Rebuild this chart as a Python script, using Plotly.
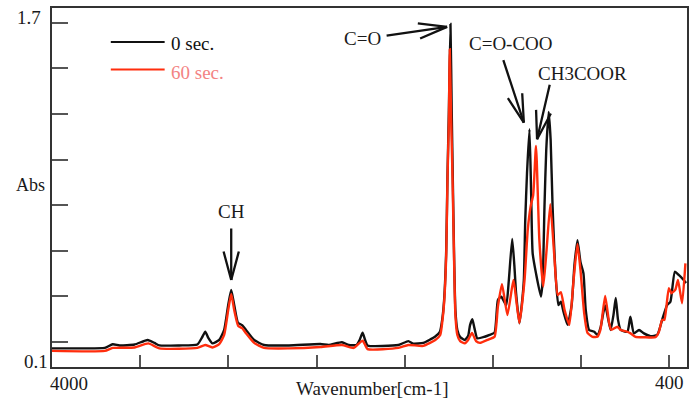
import math
import plotly.graph_objects as go

# ---------------- data ----------------
wn_0s = [4000, 3842, 3701, 3656, 3616, 3532, 3458, 3419, 3391, 3278, 3176, 3148, 3131, 3114, 3091,
         3052, 3024, 3001, 2984, 2967, 2946, 2922, 2900, 2854, 2798, 2657, 2478, 2431, 2356, 2318,
         2273, 2256, 2239, 2225, 2211, 2036, 1980, 1952, 1895, 1829, 1801, 1788, 1777, 1765, 1758,
         1750, 1741, 1734, 1728, 1720, 1713, 1702, 1686, 1660, 1641, 1630, 1617, 1605, 1589, 1547,
         1519, 1491, 1472, 1453, 1425, 1410, 1391, 1379, 1369, 1350, 1337, 1325, 1317, 1307, 1293,
         1284, 1275, 1256, 1228, 1218, 1208, 1198, 1184, 1173, 1162, 1143, 1129, 1115, 1100, 1077,
         1054, 1038, 1021, 1004, 987, 974, 955, 926, 908, 889, 874, 863, 848, 833, 817,
         804, 791, 776, 738, 721, 701, 672, 644, 607, 569, 541, 513, 494, 469, 447,
         419, 405]
abs_0s = [0.172, 0.172, 0.174, 0.190, 0.185, 0.189, 0.209, 0.196, 0.185, 0.185, 0.189, 0.222, 0.245, 0.218, 0.194,
          0.209, 0.253, 0.362, 0.428, 0.362, 0.285, 0.274, 0.253, 0.209, 0.187, 0.185, 0.191, 0.187, 0.199, 0.187,
          0.187, 0.209, 0.241, 0.209, 0.185, 0.187, 0.204, 0.193, 0.196, 0.223, 0.245, 0.297, 0.384, 0.604, 0.925,
          1.218, 1.595, 1.218, 0.925, 0.560, 0.340, 0.253, 0.222, 0.209, 0.226, 0.274, 0.300, 0.261, 0.216, 0.223,
          0.231, 0.241, 0.384, 0.399, 0.362, 0.472, 0.652, 0.538, 0.414, 0.282, 0.362, 0.472, 0.735, 0.941, 1.133,
          0.867, 0.589, 0.501, 0.399, 0.472, 0.793, 1.042, 1.209, 1.086, 0.793, 0.472, 0.362, 0.377, 0.332, 0.275,
          0.362, 0.538, 0.647, 0.551, 0.501, 0.340, 0.253, 0.245, 0.231, 0.267, 0.330, 0.360, 0.305, 0.253, 0.318,
          0.393, 0.297, 0.253, 0.245, 0.311, 0.238, 0.253, 0.238, 0.226, 0.231, 0.297, 0.362, 0.377, 0.508, 0.494,
          0.472, 0.459]

wn_60s = [4000, 3701, 3656, 3532, 3454, 3391, 3176, 3131, 3091, 3052, 3024, 3001, 2984, 2967, 2944,
          2922, 2900, 2854, 2798, 2657, 2478, 2356, 2290, 2239, 2211, 2036, 1980, 1895, 1827, 1799,
          1788, 1777, 1765, 1758, 1750, 1745, 1737, 1729, 1720, 1713, 1702, 1686, 1660, 1641, 1619,
          1596, 1574, 1523, 1491, 1472, 1449, 1418, 1384, 1368, 1350, 1321, 1303, 1286, 1272, 1256,
          1237, 1215, 1196, 1175, 1152, 1133, 1115, 1094, 1067, 1043, 1021, 1004, 983, 964, 936,
          908, 891, 864, 841, 829, 795, 776, 738, 720, 692, 644, 579, 559, 541, 528,
          503, 488, 466, 451, 428, 409]
abs_60s = [0.161, 0.161, 0.174, 0.176, 0.194, 0.172, 0.174, 0.187, 0.176, 0.191, 0.231, 0.340, 0.411, 0.340, 0.270,
           0.261, 0.238, 0.196, 0.174, 0.172, 0.178, 0.187, 0.174, 0.206, 0.169, 0.174, 0.187, 0.183, 0.209, 0.231,
           0.284, 0.371, 0.582, 0.911, 1.174, 1.484, 1.174, 0.911, 0.538, 0.318, 0.231, 0.204, 0.194, 0.209, 0.240,
           0.204, 0.196, 0.212, 0.223, 0.355, 0.454, 0.318, 0.472, 0.384, 0.283, 0.472, 0.691, 0.797, 0.845, 1.060,
           0.647, 0.443, 0.604, 0.805, 0.574, 0.406, 0.419, 0.340, 0.275, 0.472, 0.630, 0.516, 0.327, 0.240, 0.223,
           0.223, 0.253, 0.402, 0.282, 0.253, 0.267, 0.253, 0.245, 0.238, 0.223, 0.221, 0.221, 0.245, 0.297, 0.297,
           0.436, 0.414, 0.430, 0.472, 0.370, 0.545]

series_names = ["0 sec.", "60 sec."]
x_ticks = [3500, 3000, 2500, 2000, 1500, 1000, 500]
y_ticks = [0.2, 0.4, 0.6, 0.8, 1.0, 1.2, 1.4, 1.6]
x_end_labels = ["4000", "400"]
y_end_labels = ["1.7", "0.1"]

# peak labels: text, text position (wn, abs), arrow tip (wn, abs), tail offset (px)
peak_labels = [
    ("CH", 2980, 0.771, 2984, 0.472, 0, -53),
    ("C=O", 2239, 1.531, 1760, 1.582, -62, 9),
    ("C=O-COO", 1399, 1.511, 1325, 1.162, -21, -64),
    ("CH3COOR", 992, 1.378, 1250, 1.089, 13, -56),
]

FONT = "Liberation Serif, Times New Roman, serif"
BLACK = "#111111"
RED = "#ff2d0d"

fig = go.Figure()
fig.add_trace(go.Scatter(x=wn_0s, y=abs_0s, mode="lines", name=series_names[0],
                         line=dict(color=BLACK, width=2.4, shape="spline", smoothing=0.5),
                         showlegend=False))
fig.add_trace(go.Scatter(x=wn_60s, y=abs_60s, mode="lines", name=series_names[1],
                         line=dict(color=RED, width=2.4, shape="spline", smoothing=0.5),
                         showlegend=False))

ann = []
for txt, tx, ty, px, py, axo, ayo in peak_labels:
    ann.append(dict(x=tx, y=ty, xref="x", yref="y", text=txt, showarrow=False,
                    font=dict(family=FONT, size=19, color="#1a1a1a"),
                    xanchor="center", yanchor="middle"))
    # shaft
    ann.append(dict(x=px, y=py, xref="x", yref="y", text="", showarrow=True,
                    ax=axo, ay=ayo, arrowhead=0, arrowwidth=2.3, arrowcolor=BLACK,
                    standoff=0, startstandoff=0))
    # open arrow head wings
    ang = math.atan2(ayo, axo)
    for d in (-1, 1):
        a = ang + d * math.radians(15)
        ann.append(dict(x=px, y=py, xref="x", yref="y", text="", showarrow=True,
                        ax=31 * math.cos(a), ay=31 * math.sin(a), arrowhead=0,
                        arrowwidth=2.3, arrowcolor=BLACK, standoff=0, startstandoff=0))

# axis end labels
ann += [
    dict(x=-0.006, y=-0.047, xref="paper", yref="paper", text=x_end_labels[0], showarrow=False,
         xanchor="left", yanchor="middle", font=dict(family=FONT, size=19, color="#1a1a1a")),
    dict(x=0.998, y=-0.044, xref="paper", yref="paper", text=x_end_labels[1], showarrow=False,
         xanchor="right", yanchor="middle", font=dict(family=FONT, size=19, color="#1a1a1a")),
    dict(x=-0.014, y=0.9735, xref="paper", yref="paper", text=y_end_labels[0], showarrow=False,
         xanchor="right", yanchor="middle", font=dict(family=FONT, size=19, color="#1a1a1a")),
    dict(x=-0.003, y=0.0148, xref="paper", yref="paper", text=y_end_labels[1], showarrow=False,
         xanchor="right", yanchor="middle", font=dict(family=FONT, size=19, color="#1a1a1a")),
    dict(x=-0.0345, y=0.507, xref="paper", yref="paper", text="Abs", showarrow=False,
         xanchor="center", yanchor="middle", font=dict(family=FONT, size=18, color="#1a1a1a")),
    dict(x=0.504, y=-0.0585, xref="paper", yref="paper", text="Wavenumber[cm-1]", showarrow=False,
         xanchor="center", yanchor="middle", font=dict(family=FONT, size=19, color="#1a1a1a")),
    # legend texts
    dict(x=0.1848, y=0.9025, xref="paper", yref="paper", text=series_names[0], showarrow=False,
         xanchor="left", yanchor="middle", font=dict(family=FONT, size=19, color="#111111")),
    dict(x=0.1848, y=0.8217, xref="paper", yref="paper", text=series_names[1], showarrow=False,
         xanchor="left", yanchor="middle", font=dict(family=FONT, size=19, color="#f38383")),
]

shapes = [
    dict(type="line", xref="paper", yref="paper", x0=0.0926, x1=0.1774, y0=0.9053, y1=0.9053,
         line=dict(color=BLACK, width=2.2)),
    dict(type="line", xref="paper", yref="paper", x0=0.0926, x1=0.1774, y0=0.8287, y1=0.8287,
         line=dict(color=RED, width=2.2)),
]

fig.update_layout(
    width=692, height=405,
    margin=dict(l=52, r=3, t=8, b=38),
    paper_bgcolor="white", plot_bgcolor="white",
    annotations=ann, shapes=shapes,
    showlegend=False,
    xaxis=dict(range=[4000, 400], tickvals=x_ticks, showticklabels=False,
               ticks="inside", ticklen=12, tickwidth=1.5, tickcolor="#555555",
               showline=True, linecolor="#333333", linewidth=2, mirror=True,
               showgrid=False, zeroline=False),
    yaxis=dict(range=[0.0904, 1.665], tickvals=y_ticks, showticklabels=False,
               ticks="inside", ticklen=16, tickwidth=1.5, tickcolor="#555555",
               showline=True, linecolor="#333333", linewidth=2, mirror=True,
               showgrid=False, zeroline=False),
)

fig.write_html("out.html",
               config={"displayModeBar": False},
               post_script="document.body.style.margin='0';document.body.style.padding='0';"
                           "document.body.style.overflow='hidden';")
